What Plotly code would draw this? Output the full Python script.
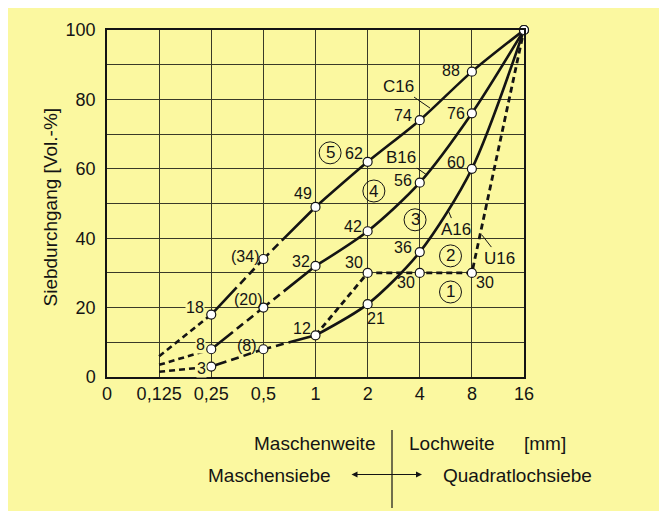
import plotly.graph_objects as go

# ---------------- data ----------------
sizes = ["0", "0,125", "0,25", "0,5", "1", "2", "4", "8", "16"]
a16 = [None, 1.5, 3, 8, 12, 21, 36, 60, 100]
b16 = [None, 3.5, 8, 20, 32, 42, 56, 76, 100]
c16 = [None, 6, 18, 34, 49, 62, 74, 88, 100]
u16 = [None, None, None, None, 12, 30, 30, 30, 100]
y_ticks = [0, 10, 20, 30, 40, 50, 60, 70, 80, 90, 100]
y_ticktext = ["0", "", "20", "", "40", "", "60", "", "80", "", "100"]

BG = "#FBF8A0"
INK = "#141414"
GRID = "#3a3a28"
FONT = "Liberation Sans, Arial, sans-serif"

fig = go.Figure()

LW = 2.6
short_dash = "6px,4px"
to_quarter = "8px,5px,8px,5px,8px,5px,400px"   # from 0,5 back to 0,25
to_one = "8px,5px,8px,5px,400px"               # from 0,5 on to 1

for vals in (a16, b16, c16):
    fig.add_trace(go.Scatter(x=sizes[1:3], y=vals[1:3], mode="lines",
                             line=dict(color=INK, width=LW, dash=short_dash),
                             hoverinfo="skip", showlegend=False, cliponaxis=False))
    fig.add_trace(go.Scatter(x=[sizes[3], sizes[2]], y=[vals[3], vals[2]], mode="lines",
                             line=dict(color=INK, width=LW, dash=to_quarter),
                             hoverinfo="skip", showlegend=False, cliponaxis=False))
    fig.add_trace(go.Scatter(x=sizes[3:5], y=vals[3:5], mode="lines",
                             line=dict(color=INK, width=LW, dash=to_one),
                             hoverinfo="skip", showlegend=False, cliponaxis=False))
    fig.add_trace(go.Scatter(x=sizes[4:], y=vals[4:], mode="lines",
                             line=dict(color=INK, width=LW, shape="spline", smoothing=0.8),
                             hoverinfo="skip", showlegend=False, cliponaxis=False))

fig.add_trace(go.Scatter(x=sizes[4:], y=u16[4:], mode="lines",
                         line=dict(color=INK, width=2.8, dash=short_dash),
                         hoverinfo="skip", showlegend=False, cliponaxis=False))

marker = dict(size=9, color="white", line=dict(color=INK, width=1.2))
for vals in (a16, b16, c16):
    fig.add_trace(go.Scatter(x=sizes[2:], y=vals[2:], mode="markers", marker=marker,
                             hoverinfo="skip", showlegend=False, cliponaxis=False))
fig.add_trace(go.Scatter(x=sizes[5:8], y=u16[5:8], mode="markers", marker=marker,
                         hoverinfo="skip", showlegend=False, cliponaxis=False))

annotations = []

# point value labels: (series, index, xshift, yshift, paren, bg)
label_specs = [
    (c16, 7, -21, 1, False, False),
    (c16, 6, -17, 5, False, False),
    (c16, 5, -14, 8, False, False),
    (c16, 4, -13, 13, False, False),
    (c16, 3, -18, 3, True, False),
    (c16, 2, -16, 7, False, True),
    (b16, 7, -16, 0, False, False),
    (b16, 6, -17, 2, False, False),
    (b16, 5, -15, 5, False, False),
    (b16, 4, -15, 4, False, False),
    (b16, 3, -15, 8, True, False),
    (b16, 2, -11, 5, False, True),
    (a16, 7, -16, 6, False, False),
    (a16, 6, -17, 5, False, False),
    (a16, 5, 8, -14, False, False),
    (a16, 4, -14, 7, False, False),
    (a16, 3, -16, 4, True, False),
    (a16, 2, -10, -2, False, True),
    (u16, 5, -14, 10, False, False),
    (u16, 6, -14, -10, False, False),
    (u16, 7, 13, -10, False, False),
]
for vals, i, dx, dy, paren, bg in label_specs:
    v = vals[i]
    txt = f"({v:g})" if paren else f"{v:g}"
    annotations.append(dict(x=i, y=v, text=txt, showarrow=False,
                            xshift=dx, yshift=dy, xanchor="center", yanchor="middle",
                            font=dict(family=FONT, size=16, color=INK),
                            bgcolor=BG if bg else None, borderpad=0))

# curve names with leader lines: (text, x index, y, ax, ay)
name_specs = [
    ("C16", 6.197, 77.5, -32, -22),
    ("B16", 6.139, 58.2, -26, -18),
    ("A16", 6.542, 48.1, 8, 19),
    ("U16", 7.194, 40.9, 18, 23),
]
for txt, xi, yv, ax, ay in name_specs:
    annotations.append(dict(x=xi, y=yv, text=txt, showarrow=True, arrowhead=0,
                            arrowwidth=1, arrowcolor=INK, ax=ax, ay=ay,
                            font=dict(family=FONT, size=17, color=INK)))

# circled zone numbers
zones = [("5", 4.28, 64.6), ("4", 5.12, 53.6), ("3", 5.91, 45.3),
         ("2", 6.59, 34.9), ("1", 6.59, 24.5)]
shapes = []
for txt, xi, yv in zones:
    shapes.append(dict(type="circle", xref="x", yref="y", xsizemode="pixel",
                       ysizemode="pixel", xanchor=xi, yanchor=yv,
                       x0=-11, x1=11, y0=-11, y1=11,
                       line=dict(color=INK, width=1)))
    annotations.append(dict(x=xi, y=yv, text=txt, showarrow=False,
                            xanchor="center", yanchor="middle",
                            font=dict(family=FONT, size=17, color=INK)))


def px(xp):
    return (xp - 107) / 417


def py(yp):
    return (377 - yp) / 347


# y-axis title
annotations.append(dict(xref="paper", yref="paper", x=px(50), y=py(206.5),
                        xanchor="center", yanchor="middle",
                        text="Siebdurchgang [Vol.-%]", textangle=-90, showarrow=False,
                        font=dict(family=FONT, size=19, color=INK)))

for txt, xp, yp in [("Maschenweite", 314.7, 443.3), ("Lochweite", 451.7, 443.3),
                    ("[mm]", 544.5, 443.3), ("Maschensiebe", 269.3, 475),
                    ("Quadratlochsiebe", 517.3, 475)]:
    annotations.append(dict(xref="paper", yref="paper", x=px(xp), y=py(yp), text=txt,
                            xanchor="center", yanchor="middle",
                            showarrow=False, font=dict(family=FONT, size=19, color=INK)))

annotations.append(dict(xref="paper", yref="paper", x=px(422), y=py(474.5), text="",
                        showarrow=True, arrowhead=2, arrowside="end+start", arrowsize=1,
                        arrowwidth=1.2, arrowcolor=INK, ax=-72, ay=0, standoff=0,
                        startstandoff=0))

shapes.append(dict(type="line", xref="paper", yref="paper", x0=px(392), x1=px(392),
                   y0=py(430), y1=py(508), line=dict(color=INK, width=1.2)))

fig.update_layout(
    width=667, height=511,
    margin=dict(l=99, r=151, t=22, b=142),
    paper_bgcolor=BG, plot_bgcolor=BG,
    font=dict(family=FONT, color=INK),
    shapes=shapes, annotations=annotations,
    showlegend=False,
)
fig.update_xaxes(type="category", categoryorder="array", categoryarray=sizes,
                 range=[0, 8], showgrid=True, gridcolor=GRID, gridwidth=1,
                 showline=True, linecolor=INK, linewidth=1.5, mirror=True,
                 ticks="", tickfont=dict(family=FONT, size=18, color=INK),
                 ticklabelstandoff=0, zeroline=False, fixedrange=True)
fig.update_yaxes(range=[0, 100], tickmode="array", tickvals=y_ticks, ticktext=y_ticktext,
                 showgrid=True, gridcolor=GRID, gridwidth=1,
                 showline=True, linecolor=INK, linewidth=1.5, mirror=True,
                 ticks="", tickfont=dict(family=FONT, size=18, color=INK),
                 ticklabelstandoff=6, zeroline=False, fixedrange=True)

fig.write_html("out.html")
